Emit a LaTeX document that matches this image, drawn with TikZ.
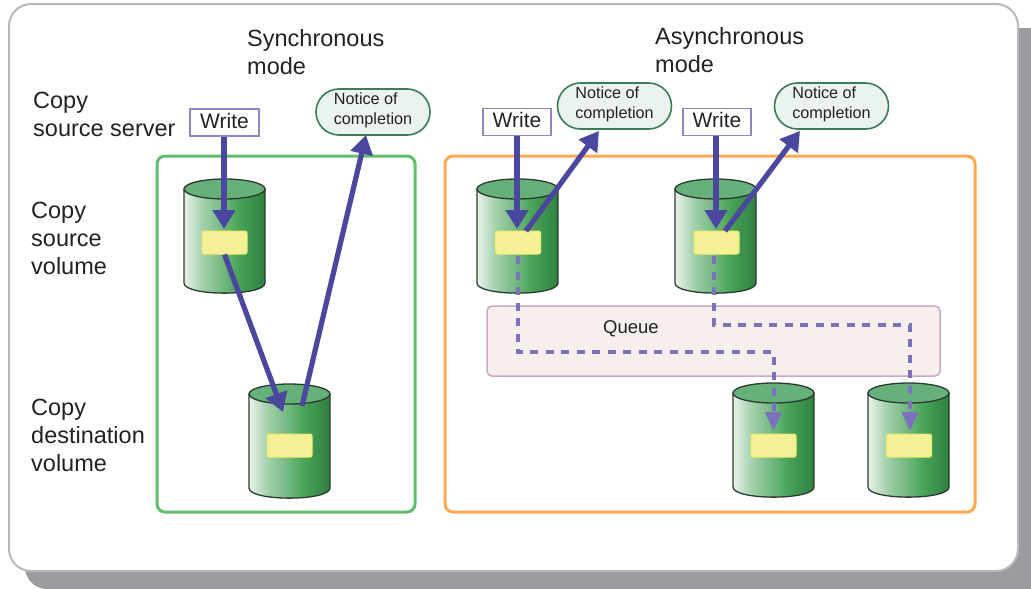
\documentclass[tikz,border=0pt]{standalone}
\usepackage{fontspec}
\setmainfont{Liberation Sans}
\usetikzlibrary{arrows.meta,shapes.misc}
\definecolor{shadowgray}{HTML}{9C9CA0}
\definecolor{panelline}{HTML}{B9B9BB}
\definecolor{framegreen}{HTML}{62BD6C}
\definecolor{frameorange}{HTML}{FFA84F}
\definecolor{arrowblue}{HTML}{4B479F}
\definecolor{dashblue}{HTML}{7A72BC}
\definecolor{cylleft}{HTML}{E8F2E9}
\definecolor{cylq}{HTML}{A0CFA8}
\definecolor{cylmid}{HTML}{6FB67D}
\definecolor{cylgreen}{HTML}{4BA55A}
\definecolor{cylright}{HTML}{2F8040}
\definecolor{cyltop}{HTML}{66B07A}
\definecolor{cylline}{HTML}{2B3A30}
\definecolor{yellowfill}{HTML}{F3F095}
\definecolor{yellowline}{HTML}{EDEC6C}
\definecolor{noticefill}{HTML}{EAF3EE}
\definecolor{noticeline}{HTML}{3C7C58}
\definecolor{writeline}{HTML}{8F86C4}
\definecolor{queuefill}{HTML}{F7EFEC}
\definecolor{queueline}{HTML}{C9A6C6}
\definecolor{textdark}{HTML}{222222}
\pgfdeclarehorizontalshading{cylshade}{100bp}{
  color(0bp)=(cylleft); color(25bp)=(cylleft); color(37bp)=(cylq); color(50bp)=(cylmid);
  color(58bp)=(cylgreen); color(75bp)=(cylright); color(100bp)=(cylright)}
\tikzset{
  x=1pt,y=-1pt,
  label text/.style={font=\fontsize{23.5}{28}\selectfont,text=textdark,align=left,inner sep=0pt,anchor=west},
  write box/.style={draw=writeline,line width=1.6pt,fill=white,minimum width=68pt,minimum height=27pt,inner sep=0pt,text height=15pt,text depth=4pt,font=\fontsize{21}{24}\selectfont,text=textdark},
  notice/.style={rounded rectangle,draw=noticeline,line width=1.6pt,fill=noticefill,minimum width=114pt,minimum height=46pt,inner sep=0pt,align=left,text depth=6pt,font=\fontsize{16.2}{20}\selectfont,text=textdark},
  data box/.style={draw=yellowline,line width=1pt,fill=yellowfill,rounded corners=2pt,minimum width=45pt,minimum height=23pt,inner sep=0pt},
  solid arrow/.style={draw=arrowblue,line width=5.2pt,-{Triangle[length=19pt,width=22pt]}},
  queue arrow/.style={draw=dashblue,line width=4pt,dash pattern=on 8pt off 7.5pt,-{Triangle[length=19pt,width=16pt]}},
  frame box/.style={line width=3pt,rounded corners=8pt},
}
\newcommand{\cylshape}[3]{% name, left x, top y
  \pgfmathsetmacro{\cxr}{#2+81}\pgfmathsetmacro{\cxm}{#2+40.5}
  \pgfmathsetmacro{\cya}{#3+10}\pgfmathsetmacro{\cyb}{#3+104}\pgfmathsetmacro{\cyc}{#3+117.5}
  \path[shading=cylshade,draw=cylline,line width=1.3pt]
    (#2,\cya) -- (#2,\cyb) .. controls (#2,\cyc) and (\cxr,\cyc) .. (\cxr,\cyb) -- (\cxr,\cya) -- cycle;
  \draw[cylline,line width=1.3pt,fill=cyltop] (\cxm,\cya) ellipse [x radius=40.5,y radius=10];
  \coordinate (#1) at (\cxm,\cya);
}
\begin{document}
\begin{tikzpicture}
\useasboundingbox (0,0) rectangle (1031,589);
% panel
\fill[shadowgray,rounded corners=22pt] (25,28) rectangle (1060,589);
\draw[panelline,fill=white,line width=2pt,rounded corners=22pt] (9,4) rectangle (1018,571);
% frames
\draw[frame box,framegreen] (157,156) rectangle (415,512);
\draw[frame box,frameorange] (445,156) rectangle (975,512);
% queue
\node[draw=queueline,fill=queuefill,line width=1.5pt,rounded corners=5pt,minimum width=453pt,minimum height=70pt,inner sep=0pt] (queue) at (713.5,341) {};
\node[font=\fontsize{18.5}{22}\selectfont,text=textdark,inner sep=0pt] (queuelabel) at (631,329) {Queue};
% text
\node[label text] (syncmode) at (247,52) {Synchronous\\mode};
\node[label text] (asyncmode) at (655,50) {Asynchronous\\mode};
\node[label text] (srcserver) at (33,114) {Copy\\source server};
\node[label text] (srcvol) at (31,238) {Copy\\source\\volume};
\node[label text] (dstvol) at (31,435) {Copy\\destination\\volume};
% cylinders
\cylshape{cylA}{184}{179}
\cylshape{cylB}{477}{179}
\cylshape{cylC}{675}{179}
\cylshape{cylD}{249}{384}
\cylshape{cylE}{733}{383}
\cylshape{cylF}{868}{383}
% data boxes
\node[data box] (boxA) at (224.5,242.5) {};
\node[data box] (boxB) at (518,242.5) {};
\node[data box] (boxC) at (716.5,242.5) {};
\node[data box] (boxD) at (289.5,445.5) {};
\node[data box] (boxE) at (773.5,445.5) {};
\node[data box] (boxF) at (909,445.5) {};
% writes and notices
\node[write box,minimum width=69pt] (writeA) at (224.5,122.5) {Write};
\node[write box] (writeB) at (517,122) {Write};
\node[write box] (writeC) at (717,122) {Write};
\node[notice] (noticeA) at (373,112) {Notice of\\completion};
\node[notice] (noticeB) at (614.5,106) {Notice of\\completion};
\node[notice] (noticeC) at (831.5,106) {Notice of\\completion};
% free ends
\coordinate (inD) at (283,412);
\coordinate (outD) at (302,406);
\coordinate (tipA) at (366,135);
\coordinate (outB) at (526,231);
\coordinate (tipB) at (599,131);
\coordinate (outC) at (725,231);
\coordinate (tipC) at (800,131);
\coordinate (bendB) at (517.5,352);
\coordinate (bendE) at (773.5,352);
\coordinate (bendC) at (714,325);
\coordinate (bendF) at (910,325);
\coordinate (tipE) at (773.5,431);
\coordinate (tipF) at (910,431);
\coordinate (startB) at (517.5,256);
\coordinate (startC) at (714,256);
\coordinate (inA) at (224,229);
\coordinate (inB) at (517,229);
\coordinate (inC) at (716,229);
% connectors
\draw[queue arrow] (startB) -- (bendB) -- (bendE) -- (tipE);
\draw[queue arrow] (startC) -- (bendC) -- (bendF) -- (tipF);
\draw[solid arrow] (boxA.south) -- (inD);
\draw[solid arrow] (outD) -- (tipA);
\draw[solid arrow] (writeA.south -| inA) -- (inA);
\draw[solid arrow] (writeB.south) -- (inB);
\draw[solid arrow] (writeC.south -| inC) -- (inC);
\draw[solid arrow] (outB) -- (tipB);
\draw[solid arrow] (outC) -- (tipC);
\end{tikzpicture}
\end{document}
